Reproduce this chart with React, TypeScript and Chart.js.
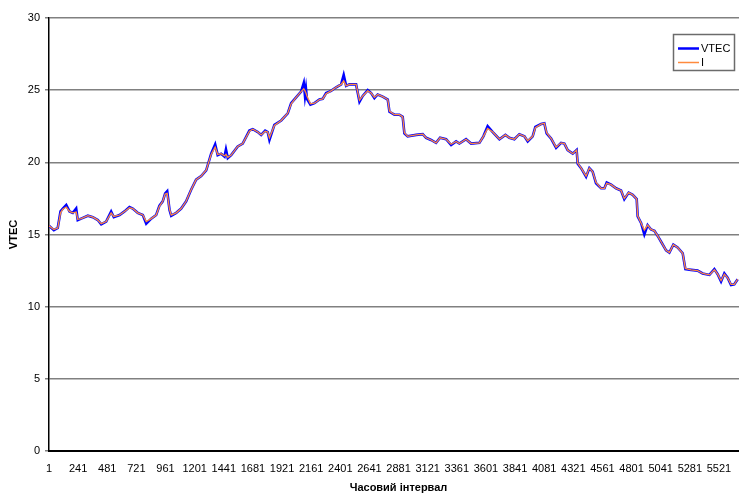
import { useEffect, useRef } from "react";
import { Chart, registerables } from "chart.js";

Chart.register(...registerables);

// Time interval index (15 s epochs) of each read point
const timeIdx = [
  1, 41, 73, 96, 115, 143, 170, 197, 225, 238, 266, 321, 362, 403, 431, 472, 513, 535, 582, 623,
  664, 691, 732, 774, 802, 843, 884, 911, 938, 958, 975, 994, 1008, 1049, 1090, 1131, 1172, 1213, 1255, 1296,
  1309, 1337, 1370, 1391, 1419, 1447, 1459, 1474, 1502, 1556, 1597, 1652, 1680, 1721, 1749, 1782, 1803, 1817, 1858, 1914,
  1968, 1996, 2037, 2078, 2100, 2110, 2118, 2126, 2155, 2188, 2229, 2256, 2284, 2325, 2367, 2408, 2429, 2449, 2476, 2531,
  2545, 2559, 2586, 2627, 2655, 2682, 2709, 2750, 2792, 2806, 2847, 2888, 2915, 2929, 2956, 3026, 3080, 3108, 3149, 3190,
  3223, 3273, 3314, 3355, 3382, 3437, 3479, 3547, 3580, 3615, 3657, 3712, 3761, 3794, 3835, 3876, 3918, 3945, 3986, 4008,
  4055, 4082, 4101, 4138, 4179, 4220, 4247, 4274, 4316, 4348, 4357, 4385, 4426, 4453, 4480, 4508, 4550, 4577, 4596, 4632,
  4673, 4714, 4741, 4777, 4810, 4843, 4851, 4879, 4906, 4933, 4961, 4989, 5016, 5044, 5085, 5112, 5145, 5180, 5222, 5244,
  5291, 5345, 5386, 5442, 5483, 5510, 5538, 5565, 5592, 5620, 5647, 5675,
];

const vtec = [
  15.6, 15.3, 15.45, 16.6, 16.8, 17.05, 16.6, 16.5, 16.8, 16.0, 16.1, 16.3, 16.2, 16.0, 15.7, 15.9, 16.6, 16.2, 16.35, 16.6,
  16.9, 16.8, 16.5, 16.35, 15.75, 16.1, 16.35, 17.0, 17.3, 17.85, 18.0, 16.7, 16.3, 16.5, 16.8, 17.3, 18.1, 18.8, 19.05, 19.45,
  19.8, 20.6, 21.25, 20.5, 20.6, 20.4, 20.9, 20.3, 20.5, 21.1, 21.3, 22.2, 22.3, 22.1, 21.9, 22.2, 22.1, 21.55, 22.6, 22.9,
  23.4, 24.1, 24.5, 24.9, 25.5, 24.6, 25.1, 24.4, 24.0, 24.1, 24.35, 24.4, 24.8, 24.95, 25.2, 25.4, 26.05, 25.3, 25.4, 25.4,
  24.8, 24.2, 24.6, 25.0, 24.8, 24.45, 24.7, 24.55, 24.35, 23.5, 23.3, 23.3, 23.15, 22.0, 21.8, 21.9, 21.95, 21.7, 21.55, 21.35,
  21.7, 21.6, 21.2, 21.45, 21.3, 21.6, 21.3, 21.35, 21.8, 22.5, 22.1, 21.6, 21.9, 21.7, 21.6, 21.95, 21.8, 21.45, 21.8, 22.45,
  22.65, 22.7, 22.0, 21.65, 21.0, 21.35, 21.3, 20.85, 20.6, 20.85, 19.9, 19.6, 19.0, 19.6, 19.35, 18.55, 18.2, 18.2, 18.6, 18.45,
  18.2, 18.05, 17.45, 17.9, 17.75, 17.45, 16.25, 15.8, 15.0, 15.65, 15.35, 15.25, 14.9, 14.5, 13.9, 13.75, 14.3, 14.1, 13.7, 12.6,
  12.55, 12.5, 12.3, 12.2, 12.6, 12.25, 11.75, 12.3, 12.0, 11.5, 11.55, 11.9,
];

const iono = [
  15.6, 15.35, 15.45, 16.5, 16.75, 16.9, 16.6, 16.5, 16.55, 16.05, 16.1, 16.3, 16.2, 16.0, 15.75, 15.9, 16.5, 16.25, 16.35, 16.6,
  16.85, 16.8, 16.5, 16.35, 15.9, 16.1, 16.35, 16.95, 17.3, 17.8, 17.85, 16.75, 16.35, 16.5, 16.8, 17.3, 18.1, 18.8, 19.05, 19.45,
  19.8, 20.55, 21.05, 20.55, 20.6, 20.45, 20.55, 20.35, 20.5, 21.1, 21.3, 22.15, 22.3, 22.1, 21.9, 22.15, 22.1, 21.7, 22.55, 22.9,
  23.4, 24.05, 24.5, 24.9, 25.1, 24.95, 24.8, 24.6, 24.05, 24.1, 24.35, 24.4, 24.75, 24.95, 25.2, 25.4, 25.65, 25.3, 25.4, 25.4,
  24.85, 24.3, 24.6, 24.95, 24.8, 24.5, 24.7, 24.55, 24.35, 23.55, 23.3, 23.3, 23.15, 22.05, 21.8, 21.9, 21.95, 21.7, 21.55, 21.35,
  21.7, 21.6, 21.25, 21.45, 21.3, 21.6, 21.3, 21.35, 21.8, 22.35, 22.1, 21.6, 21.9, 21.7, 21.6, 21.95, 21.8, 21.5, 21.8, 22.4,
  22.65, 22.7, 22.05, 21.65, 21.05, 21.35, 21.3, 20.85, 20.6, 20.85, 19.95, 19.6, 19.05, 19.6, 19.35, 18.6, 18.2, 18.2, 18.55, 18.45,
  18.2, 18.05, 17.5, 17.9, 17.75, 17.45, 16.3, 15.8, 15.3, 15.65, 15.35, 15.25, 14.9, 14.5, 13.9, 13.75, 14.3, 14.1, 13.7, 12.65,
  12.55, 12.5, 12.3, 12.2, 12.55, 12.25, 11.8, 12.25, 12.0, 11.55, 11.55, 11.9,
];

const xTickLabels = [
  1, 241, 481, 721, 961, 1201, 1441, 1681, 1921, 2161, 2401, 2641, 2881, 3121, 3361, 3601, 3841, 4081,
  4321, 4561, 4801, 5041, 5281, 5521,
];
const xMin = 1;
const xMax = 5760;
const yMin = 0;
const yMax = 30;
const yStep = 5;

const seriesNames = ["VTEC", "I"];
const seriesColors = ["#0000FF", "#FF8A3D"];

const FONT = "'Liberation Sans', Arial, sans-serif";

const boxLegend = {
  id: "boxLegend",
  afterDraw(chart: any) {
    const ctx = chart.ctx as CanvasRenderingContext2D;
    ctx.save();
    ctx.fillStyle = "#ffffff";
    ctx.fillRect(673, 34, 61, 36);
    ctx.strokeStyle = "#6b6b6b";
    ctx.lineWidth = 1.5;
    ctx.strokeRect(673.5, 34.5, 61, 36);
    ctx.font = `11px ${FONT}`;
    ctx.textBaseline = "middle";
    ctx.textAlign = "left";
    const rows = [48, 62];
    seriesNames.forEach((name, i) => {
      const y = rows[i];
      ctx.strokeStyle = seriesColors[i];
      ctx.lineWidth = i === 0 ? 2.5 : 1.5;
      ctx.beginPath();
      ctx.moveTo(678, y + 0.5);
      ctx.lineTo(699, y + 0.5);
      ctx.stroke();
      ctx.fillStyle = "#000000";
      ctx.fillText(name, 701, y + 1);
    });
    ctx.restore();
  },
};

export default function App() {
  const ref = useRef<HTMLCanvasElement | null>(null);

  useEffect(() => {
    if (!ref.current) return;
    const toPoints = (vals: number[]) => vals.map((v, i) => ({ x: timeIdx[i], y: v }));
    const chart = new Chart(ref.current, {
      type: "line",
      data: {
        datasets: [
          {
            label: seriesNames[0],
            data: toPoints(vtec),
            borderColor: seriesColors[0],
            backgroundColor: seriesColors[0],
            borderWidth: 2.6,
            pointRadius: 0,
            tension: 0,
            order: 2,
          },
          {
            label: seriesNames[1],
            data: toPoints(iono),
            borderColor: seriesColors[1],
            backgroundColor: seriesColors[1],
            borderWidth: 1.3,
            pointRadius: 0,
            tension: 0,
            order: 1,
          },
        ],
      },
      options: {
        responsive: false,
        animation: false,
        layout: { padding: { left: 0, right: 12, top: 18, bottom: 0 } },
        plugins: {
          legend: { display: false },
          tooltip: { enabled: false },
        },
        scales: {
          x: {
            type: "linear",
            min: xMin,
            max: xMax,
            afterBuildTicks: (scale: any) => {
              scale.ticks = xTickLabels.map((v) => ({ value: v }));
            },
            afterFit: (scale: any) => {
              scale.height = 49;
            },
            grid: { display: false, drawTicks: false },
            border: { display: true, color: "#000000", width: 2 },
            ticks: {
              autoSkip: false,
              maxRotation: 0,
              padding: 11,
              color: "#000000",
              font: { family: FONT, size: 11 },
              callback: (v: any) => String(v),
            },
            title: {
              display: true,
              text: "Часовий інтервал",
              color: "#000000",
              font: { family: FONT, size: 11, weight: "bold" },
              padding: { top: 0, bottom: 5 },
            },
          },
          y: {
            min: yMin,
            max: yMax,
            afterFit: (scale: any) => {
              scale.width = 49;
            },
            grid: { color: "#808080", lineWidth: 1.5, tickLength: 4, drawTicks: true },
            border: { display: true, color: "#000000", width: 1.5 },
            ticks: {
              stepSize: yStep,
              padding: 5,
              color: "#000000",
              font: { family: FONT, size: 11 },
            },
            title: {
              display: true,
              text: "VTEC",
              color: "#000000",
              font: { family: FONT, size: 11, weight: "bold" },
              padding: { top: 7, bottom: 0 },
            },
          },
        },
      },
      plugins: [boxLegend],
    });
    return () => chart.destroy();
  }, []);

  return (
    <div
      style={{
        position: "fixed",
        left: 0,
        top: 0,
        width: 739,
        height: 493,
        overflow: "hidden",
        background: "#ffffff",
      }}
    >
      <canvas ref={ref} width={760} height={500} style={{ display: "block" }} />
    </div>
  );
}
